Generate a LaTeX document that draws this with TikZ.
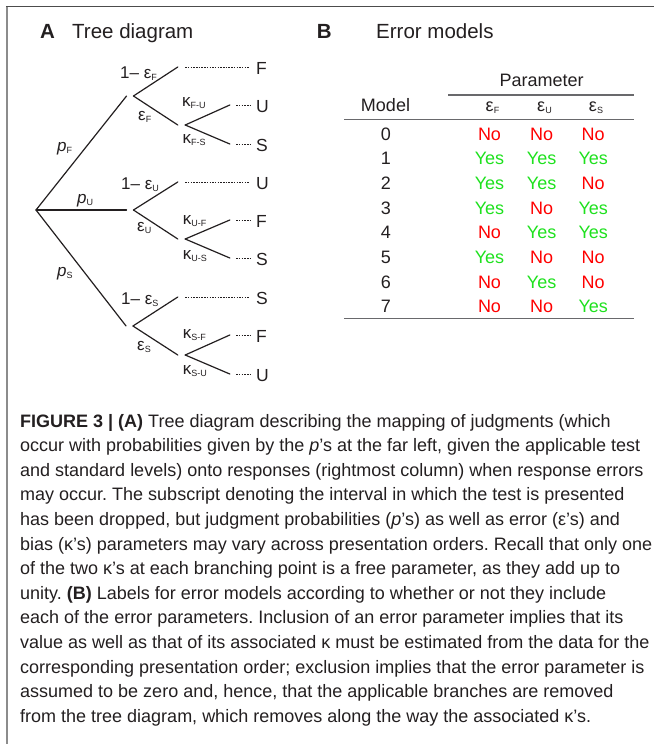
\documentclass[tikz,border=0pt]{standalone}
\usepackage{fontspec}
\setmainfont{Liberation Sans}
\frenchspacing
\definecolor{ink}{RGB}{35,31,32}
\definecolor{nored}{RGB}{255,0,0}
\definecolor{yesgreen}{RGB}{30,225,30}
\definecolor{rulegray}{RGB}{105,105,108}
\newcommand\sbs[1]{\raisebox{-2pt}{\fontsize{9}{9}\selectfont #1}}
\newcommand\fs[1]{\fontsize{#1}{#1}\selectfont}
\newcommand\yy{\textcolor{yesgreen}{Yes}}
\newcommand\nn{\textcolor{nored}{No}}
\begin{document}
\begin{tikzpicture}[x=1pt,y=-1pt,
  every node/.style={inner sep=0pt, text=ink},
  gapnode/.style={rectangle, inner sep=0pt, minimum height=0pt, minimum width=#1},
  gapnode/.default=7pt,
  branch/.style={line width=1.2pt, draw=ink, line cap=round},
  dots/.style={line width=0.8pt, draw=ink, dash pattern=on 1.5pt off 1.2pt},
  lab/.style={anchor=base west, font=\fs{17}},
  leaf/.style={anchor=west, inner xsep=6pt, font=\fs{17.5}},
  ttl/.style={anchor=base west, font=\fs{20.5}},
  tab/.style={anchor=base, font=\fs{18}},
  captext/.style={anchor=base west, font=\fs{18}},
  tabrule/.style={draw=rulegray, line width=1.2pt}]
\useasboundingbox (0,0) rectangle (654,744);
% frame
\draw[draw=black!45, line width=1.2pt] (7,6) -- (7,744);
\draw[draw=black!70, line width=1.6pt] (6.4,6.5) -- (654,6.5);
% titles
\node[ttl, font=\bfseries\fs{20.5}] (A) at (40,38.3) {A};
\node[ttl] (At) at (72,38.3) {Tree diagram};
\node[ttl, font=\bfseries\fs{20.5}] (B) at (316.7,38.3) {B};
\node[ttl] (Bt) at (376,38.3) {Error models};
% tree nodes
\coordinate (R) at (36,210);
\node[gapnode=6.5pt] (NF) at (130,96) {};
\node[gapnode=6.5pt] (NU) at (130,210) {};
\node[gapnode=6.5pt] (NS) at (129.5,326) {};
\node[gapnode] (EF) at (181.5,67) {};
\node[gapnode] (KF) at (181.5,125) {};
\node[gapnode] (EU) at (181.5,182) {};
\node[gapnode] (KU) at (181.5,239) {};
\node[gapnode] (ES) at (181.5,297) {};
\node[gapnode] (KS) at (181.5,355) {};
\node[gapnode=6pt] (TFU) at (233,105) {};
\node[gapnode=6pt] (TFS) at (233,144) {};
\node[gapnode=6pt] (TUF) at (233,220) {};
\node[gapnode=6pt] (TUS) at (233,258) {};
\node[gapnode=6pt] (TSF) at (233,335) {};
\node[gapnode=6pt] (TSU) at (233,374) {};
% leaves
\node[leaf] (LF1) at (250,68.5) {F};
\node[leaf] (LFU) at (250,106.5) {U};
\node[leaf] (LFS) at (250,145.5) {S};
\node[leaf] (LU1) at (250,183.5) {U};
\node[leaf] (LUF) at (250,221.5) {F};
\node[leaf] (LUS) at (250,259.5) {S};
\node[leaf] (LS1) at (250,298.5) {S};
\node[leaf] (LSF) at (250,336.5) {F};
\node[leaf] (LSU) at (250,375.5) {U};
% branches
\draw[branch] (R) -- (NF.west);
\draw[branch] (R) -- (NU.west);
\draw[branch] (R) -- (NS.west);
\draw[branch] (NF.east) -- (EF.west);
\draw[branch] (NF.east) -- (KF.west);
\draw[branch] (NU.east) -- (EU.west);
\draw[branch] (NU.east) -- (KU.west);
\draw[branch] (NS.east) -- (ES.west);
\draw[branch] (NS.east) -- (KS.west);
\draw[branch] (KF.east) -- (TFU.west);
\draw[branch] (KF.east) -- (TFS.west);
\draw[branch] (KU.east) -- (TUF.west);
\draw[branch] (KU.east) -- (TUS.west);
\draw[branch] (KS.east) -- (TSF.west);
\draw[branch] (KS.east) -- (TSU.west);
% dotted leaders
\draw[dots] (EF.east) -- (LF1.west |- EF.east);
\draw[dots] (EU.east) -- (LU1.west |- EU.east);
\draw[dots] (ES.east) -- (LS1.west |- ES.east);
\draw[dots] (TFU.east) -- (LFU.west |- TFU.east);
\draw[dots] (TFS.east) -- (LFS.west |- TFS.east);
\draw[dots] (TUF.east) -- (LUF.west |- TUF.east);
\draw[dots] (TUS.east) -- (LUS.west |- TUS.east);
\draw[dots] (TSF.east) -- (LSF.west |- TSF.east);
\draw[dots] (TSU.east) -- (LSU.west |- TSU.east);
% branch labels
\node[lab] (pF) at (57,151.7) {{\itshape p}\sbs{F}};
\node[lab] (pU) at (77,203.3) {{\itshape p}\sbs{U}};
\node[lab] (pS) at (57,276) {{\itshape p}\sbs{S}};
\node[lab] (lF) at (120,78) {1– ε\sbs{F}};
\node[lab] (lU) at (121,189.3) {1– ε\sbs{U}};
\node[lab] (lS) at (121,304.3) {1– ε\sbs{S}};
\node[lab] (eF) at (138,120) {ε\sbs{F}};
\node[lab] (eU) at (137,231.7) {ε\sbs{U}};
\node[lab] (eS) at (137,350) {ε\sbs{S}};
\node[lab] (kFU) at (182,106.7) {κ\sbs{F-U}};
\node[lab] (kFS) at (182.5,143.3) {κ\sbs{F-S}};
\node[lab] (kUF) at (182.7,224) {κ\sbs{U-F}};
\node[lab] (kUS) at (182.7,259) {κ\sbs{U-S}};
\node[lab] (kSF) at (182.7,338.3) {κ\sbs{S-F}};
\node[lab] (kSU) at (182.7,374) {κ\sbs{S-U}};
% table
\node[tab] (par) at (541.7,86.7) {Parameter};
\node[tab] (mod) at (385.5,111.7) {Model};
\node[tab] (hF) at (492.5,111.7) {ε\sbs{F}};
\node[tab] (hU) at (544.5,111.7) {ε\sbs{U}};
\node[tab] (hS) at (596,111.7) {ε\sbs{S}};
\draw[tabrule] (448,95) -- (634,95);
\draw[tabrule] (344,119.3) -- (634,119.3);
\draw[tabrule] (344,318.3) -- (634,318.3);
\foreach \r/\a/\b/\c [count=\i from 0] in {0/\nn/\nn/\nn, 1/\yy/\yy/\yy, 2/\yy/\yy/\nn, 3/\yy/\nn/\yy, 4/\nn/\yy/\yy, 5/\yy/\nn/\nn, 6/\nn/\yy/\nn, 7/\nn/\nn/\yy}{
  \node[tab] (m\r) at (385.8,140+24.7*\i) {\r};
  \node[tab] (a\r) at (489.5,140+24.7*\i) {\a};
  \node[tab] (b\r) at (541.6,140+24.7*\i) {\b};
  \node[tab] (c\r) at (593.2,140+24.7*\i) {\c};
}
% caption
\node[captext] (c1) at (20,427) {\textbf{FIGURE 3 | (A)} Tree diagram describing the mapping of judgments (which};
\node[captext] (c2) at (20,451.6) {occur with probabilities given by the \textit{p}’s at the far left, given the applicable test};
\node[captext] (c3) at (20,476.2) {and standard levels) onto responses (rightmost column) when response errors};
\node[captext] (c4) at (20,500.8) {may occur. The subscript denoting the interval in which the test is presented};
\node[captext] (c5) at (20,525.4) {has been dropped, but judgment probabilities (\textit{p}’s) as well as error (ε’s) and};
\node[captext] (c6) at (20,550) {bias (κ’s) parameters may vary across presentation orders. Recall that only one};
\node[captext] (c7) at (20,574.6) {of the two κ’s at each branching point is a free parameter, as they add up to};
\node[captext] (c8) at (20,599.2) {unity. \textbf{(B)} Labels for error models according to whether or not they include};
\node[captext] (c9) at (20,623.8) {each of the error parameters. Inclusion of an error parameter implies that its};
\node[captext] (c10) at (20,648.4) {value as well as that of its associated κ must be estimated from the data for the};
\node[captext] (c11) at (20,673) {corresponding presentation order; exclusion implies that the error parameter is};
\node[captext] (c12) at (20,697.6) {assumed to be zero and, hence, that the applicable branches are removed};
\node[captext] (c13) at (20,722.2) {from the tree diagram, which removes along the way the associated κ’s.};
\end{tikzpicture}
\end{document}
